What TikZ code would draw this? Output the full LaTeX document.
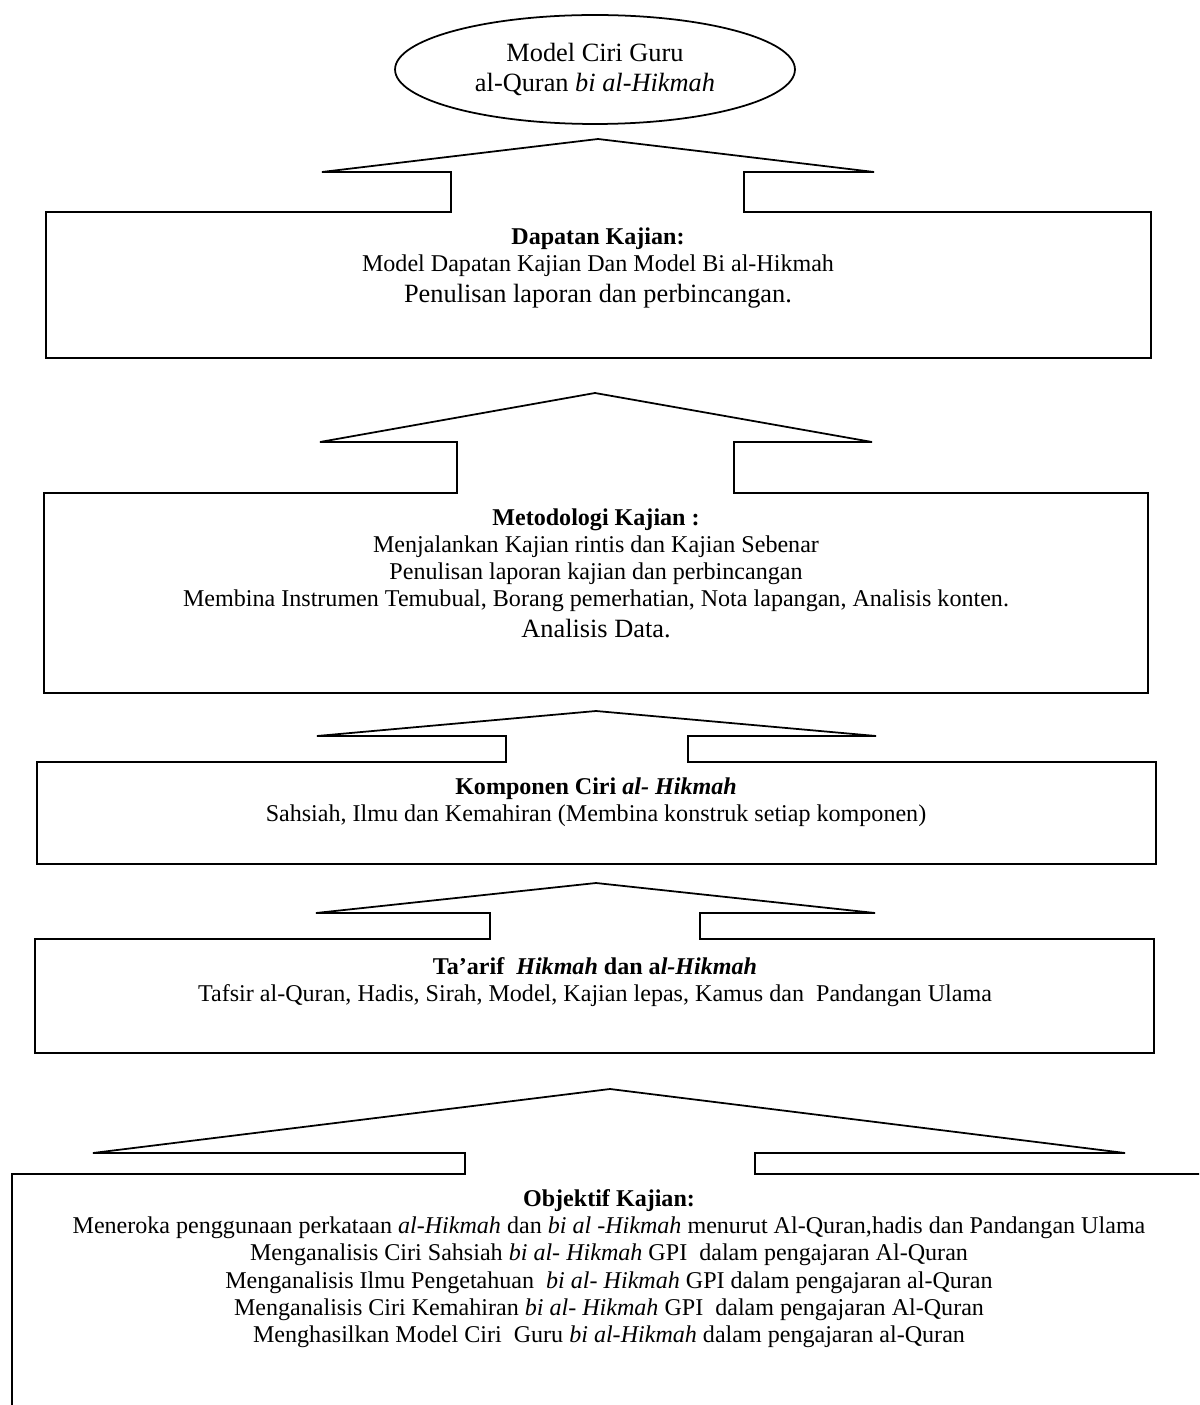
\documentclass[tikz,border=0pt]{standalone}
\usepackage{fontspec}
\setmainfont{Liberation Serif}
\usetikzlibrary{shapes.geometric}

% Text sizes of the flow chart
\newcommand\normsize{\fontsize{13.7}{15.4}\selectfont}
\newcommand\bigsize{\fontsize{15}{17}\selectfont}

\begin{document}
\begin{tikzpicture}[x=0.02cm, y=-0.02cm, line width=1pt,
    stagetext/.style={anchor=north, align=center, inner sep=0pt, font=\normsize}]

% Page frame, the lowest box runs off the page
\useasboundingbox (0,0) rectangle (1199,1405);
\clip (0,0) rectangle (1199,1405);

% Model at the top
\node[draw, ellipse, minimum width=8cm, minimum height=2.18cm, inner sep=0pt,
      align=center, font=\bigsize] (model) at (595,69.5)
    {Model Ciri Guru\\al-Quran \textit{bi al-Hikmah}};

% Dapatan Kajian box with arrow
\draw
    (46,358) -- (46,212) -- (451,212) -- (451,172) -- (322,172)
    -- (598,139) -- (874,172) -- (744,172) -- (744,212)
    -- (1151,212) -- (1151,358) -- cycle;
\node[stagetext] (dapatan) at (598,227)
    {\textbf{Dapatan Kajian:}\\
     Model Dapatan Kajian Dan Model Bi al-Hikmah\\[2pt]
     {\bigsize Penulisan laporan dan perbincangan.}};

% Metodologi Kajian box with arrow
\draw
    (44,693) -- (44,493) -- (457,493) -- (457,442) -- (320,442)
    -- (595,393) -- (872,442) -- (734,442) -- (734,493)
    -- (1148,493) -- (1148,693) -- cycle;
\node[stagetext] (metodologi) at (596,508)
    {\textbf{Metodologi Kajian :}\\
     Menjalankan Kajian rintis dan Kajian Sebenar\\
     Penulisan laporan kajian dan perbincangan\\
     Membina Instrumen Temubual, Borang pemerhatian, Nota lapangan, Analisis konten.\\[2pt]
     {\bigsize Analisis Data.}};

% Komponen box with arrow
\draw
    (37,864) -- (37,762) -- (506,762) -- (506,736) -- (317,736)
    -- (596,711) -- (876,736) -- (688,736) -- (688,762)
    -- (1156,762) -- (1156,864) -- cycle;
\node[stagetext] (komponen) at (596,777)
    {\textbf{Komponen Ciri \textit{al- Hikmah}}\\
     Sahsiah, Ilmu dan Kemahiran (Membina konstruk setiap komponen)};

% Ta'arif box with arrow
\draw
    (35,1053) -- (35,939) -- (490,939) -- (490,913) -- (316,913)
    -- (596,883) -- (875,913) -- (700,913) -- (700,939)
    -- (1154,939) -- (1154,1053) -- cycle;
\node[stagetext] (taarif) at (595,957)
    {\textbf{Ta’arif\ \ \textit{Hikmah} dan a\textit{l-Hikmah}}\\
     Tafsir al-Quran, Hadis, Sirah, Model, Kajian lepas, Kamus dan\ \ Pandangan Ulama};

% Objektif Kajian box with arrow
\draw
    (12,1450) -- (12,1174) -- (465,1174) -- (465,1153) -- (93,1153)
    -- (610,1089) -- (1125,1153) -- (755,1153) -- (755,1174)
    -- (1250,1174);
\node[stagetext] (objektif) at (609,1189)
    {\textbf{Objektif Kajian:}\\
     Meneroka penggunaan perkataan \textit{al-Hikmah} dan \textit{bi al -Hikmah} menurut Al-Quran,hadis dan Pandangan Ulama\\
     Menganalisis Ciri Sahsiah \textit{bi al- Hikmah} GPI\ \ dalam pengajaran Al-Quran\\
     Menganalisis Ilmu Pengetahuan\ \ \textit{bi al- Hikmah} GPI dalam pengajaran al-Quran\\
     Menganalisis Ciri Kemahiran \textit{bi al- Hikmah} GPI\ \ dalam pengajaran Al-Quran\\
     Menghasilkan Model Ciri\ \ Guru \textit{bi al-Hikmah} dalam pengajaran al-Quran};

\end{tikzpicture}
\end{document}
